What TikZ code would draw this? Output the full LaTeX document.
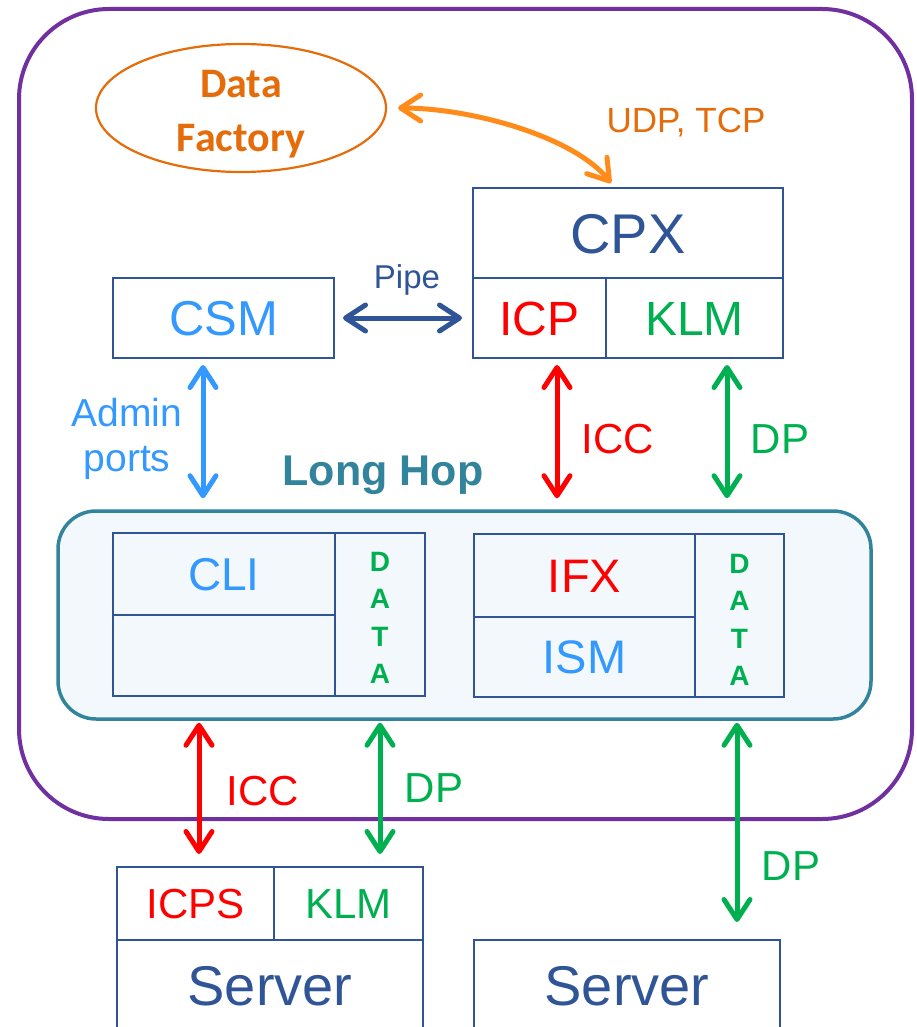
\documentclass[tikz,border=0pt]{standalone}
\usepackage{fontspec}
\setmainfont{Liberation Sans}
\newfontfamily\calib{Carlito}
\usetikzlibrary{arrows.meta,shapes.geometric}
\definecolor{dblue}{HTML}{2F5597}
\definecolor{lblue}{HTML}{3399FF}
\definecolor{cred}{HTML}{FF0000}
\definecolor{cgreen}{HTML}{00B050}
\definecolor{orgtext}{HTML}{E46C0A}
\definecolor{orgarrow}{HTML}{FF8C1A}
\definecolor{cpurple}{HTML}{7030A0}
\definecolor{cteal}{HTML}{31849B}
\definecolor{lhfill}{HTML}{F3F8FC}
\tikzset{
  box/.style={draw=dblue, line width=2.5pt, rectangle, inner sep=0pt, outer sep=0pt},
  lbl/.style={inner sep=0pt, outer sep=0pt},
  fs/.code={\pgfmathsetmacro\fsh{0.716*#1}\tikzset{font=\fontsize{#1}{#1}\selectfont, text height=\fsh pt, text depth=0pt}},
  stack/.style={inner sep=0pt, outer sep=0pt, align=center, text=cgreen, font=\bfseries\fontsize{28}{37.5}\selectfont},
  arr/.style={line width=5pt, {Straight Barb[length=20pt,width=26pt,round]}-{Straight Barb[length=20pt,width=26pt,round]}},
}
\begin{document}
\begin{tikzpicture}[x=1pt,y=-1pt]
\useasboundingbox (0,0) rectangle (917,1027);
\clip (0,0) rectangle (917,1027);

% outer container
\node[draw=cpurple, line width=4pt, rounded corners=90, minimum width=893, minimum height=810, inner sep=0pt] (outer) at (465.5,414) {};

% data factory
\node[ellipse, draw=orgtext, line width=2.2pt, minimum width=290, minimum height=128, inner sep=0pt] (df) at (241,108) {};
\node[align=center, inner sep=0pt, text=orgtext, font=\calib\bfseries\fontsize{42}{54}\selectfont] (dftext) at (241,114) {Data\\Factory};

% CPX
\node[box, minimum width=310, minimum height=90, text=dblue, fs=56] (cpx) at (628,233) {CPX};
\node[box, minimum width=133, minimum height=80, text=cred, fs=48] (icp) at (539.5,318) {ICP};
\node[box, minimum width=177, minimum height=80, text=cgreen, fs=48] (klm) at (694.5,318) {KLM};

% CSM
\node[box, minimum width=221, minimum height=80, text=lblue, fs=49] (csm) at (223.5,318) {CSM};

% Long Hop
\node[draw=cteal, fill=lhfill, line width=3.5pt, rounded corners=38, minimum width=813, minimum height=208, inner sep=0pt] (lh) at (464.5,615) {};
\node[box, minimum width=222, minimum height=82, text=lblue, fs=46] (cli) at (224,574) {CLI};
\node[box, minimum width=222, minimum height=81] (clib) at (224,655.5) {};
\node[box, minimum width=90, minimum height=163] (datal) at (380,614.5) {};
\node[stack] (datalt) at (380,618) {D\\A\\T\\A};
\node[box, minimum width=221, minimum height=83, text=cred, fs=47] (ifx) at (584.5,575.5) {IFX};
\node[box, minimum width=221, minimum height=80, text=lblue, fs=47] (ism) at (584.5,657) {ISM};
\node[box, minimum width=89, minimum height=163] (datar) at (739.5,615.5) {};
\node[stack] (datart) at (739.5,620) {D\\A\\T\\A};

% servers
\node[box, minimum width=157, minimum height=73, text=cred, fs=42] (icps) at (195.5,903.5) {ICPS};
\node[box, minimum width=149, minimum height=73, text=cgreen, fs=42] (klmb) at (348.5,903.5) {KLM};
\node[box, minimum width=306, minimum height=90, text=dblue, fs=56] (srv1) at (270,985) {Server};
\node[box, minimum width=306, minimum height=90, text=dblue, fs=56] (srv2) at (627,985) {Server};

% connectors
\draw[arr, orgarrow] ([xshift=11pt]df.east) .. controls (470,108) and (573,136) .. ([xshift=-17pt,yshift=5pt]cpx.north);
\draw[arr, dblue, shorten <=9pt, shorten >=11pt] (csm.east) -- (icp.west);
\draw[arr, lblue, shorten <=7pt, shorten >=11pt] (203,0 |- csm.south) -- (203,0 |- lh.north);
\draw[arr, cred, shorten <=7pt, shorten >=11pt] (557,0 |- icp.south) -- (557,0 |- lh.north);
\draw[arr, cgreen, shorten <=7pt, shorten >=11pt] (727,0 |- klm.south) -- (727,0 |- lh.north);
\draw[arr, cred, shorten <=2pt, shorten >=13pt] (199,0 |- lh.south) -- (199,0 |- icps.north);
\draw[arr, cgreen, shorten <=2pt, shorten >=13pt] (380,0 |- lh.south) -- (380,0 |- klmb.north);
\draw[arr, cgreen, shorten <=2pt, shorten >=18pt] (737,0 |- lh.south) -- (737,0 |- srv2.north);

% labels
\node[lbl, text=orgtext, fs=35] (udp) at (686,120) {UDP, TCP};
\node[lbl, text=dblue, fs=33] (pipe) at (407,277) {Pipe};
\node[align=center, inner sep=0pt, text=lblue, font=\fontsize{39}{45}\selectfont] (admin) at (127,439) {Admin\\ports};
\node[lbl, text=cteal, font=\bfseries\fontsize{43}{43}\selectfont, text height=31pt, text depth=0pt] (lhl) at (383,470) {Long Hop};
\node[lbl, text=cred, fs=42] (icc1) at (618,438) {ICC};
\node[lbl, text=cgreen, fs=42] (dp1) at (780,438) {DP};
\node[lbl, text=cred, fs=42] (icc2) at (263,790) {ICC};
\node[lbl, text=cgreen, fs=42] (dp2) at (434,787) {DP};
\node[lbl, text=cgreen, fs=42] (dp3) at (791,865) {DP};
\end{tikzpicture}
\end{document}
